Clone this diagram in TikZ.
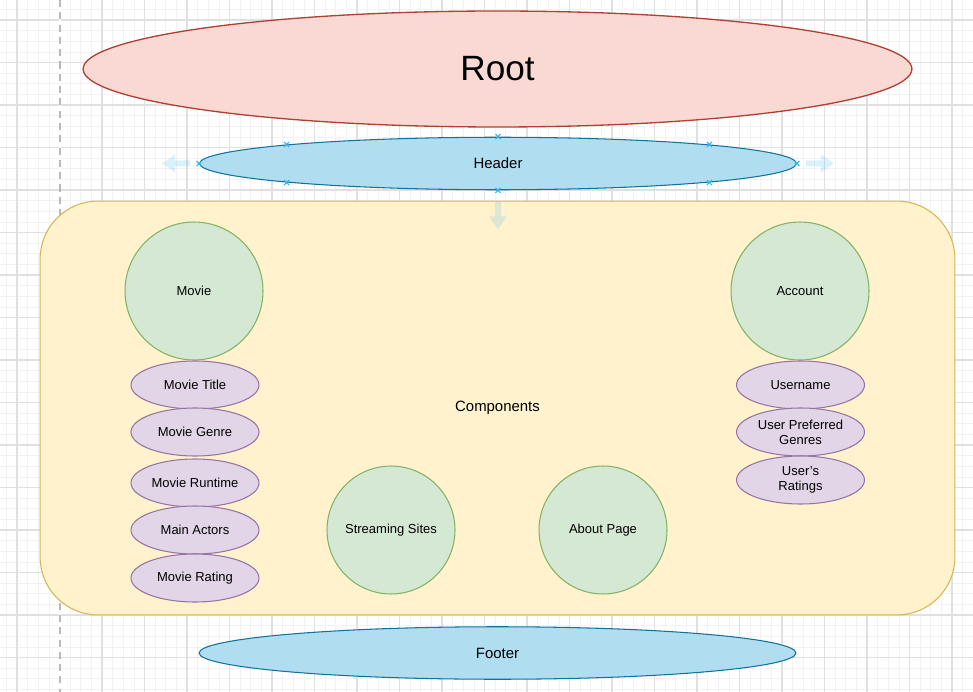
\documentclass[tikz,border=0pt]{standalone}
\usepackage{fontspec}
\setmainfont{Liberation Sans}
\usetikzlibrary{shapes.geometric}
\definecolor{rootfill}{HTML}{FAD9D5}
\definecolor{rootline}{HTML}{AE4132}
\definecolor{barfill}{HTML}{B1DDF0}
\definecolor{barline}{HTML}{10739E}
\definecolor{panelfill}{HTML}{FFF2CC}
\definecolor{panelline}{HTML}{D6B656}
\definecolor{compfill}{HTML}{D5E8D4}
\definecolor{compline}{HTML}{82B366}
\definecolor{attrfill}{HTML}{E1D5E7}
\definecolor{attrline}{HTML}{9673A6}
\definecolor{selblue}{HTML}{29B6F2}
\definecolor{gridminor}{HTML}{F2F2F2}
\definecolor{gridmajor}{HTML}{E0E0E0}
\tikzset{
  base/.style={draw, line width=0.6pt, inner sep=0pt, align=center, text=black},
  rootnode/.style={base, ellipse, fill=rootfill, draw=rootline, line width=0.75pt,
    minimum width=16.58cm, minimum height=2.32cm, font=\fontsize{20}{24}\selectfont},
  barnode/.style={base, ellipse, fill=barfill, draw=barline,
    minimum width=11.94cm, minimum height=1.05cm, font=\fontsize{8.5}{10}\selectfont},
  panel/.style={base, rectangle, rounded corners=1.16cm, fill=panelfill, draw=panelline,
    minimum width=18.3cm, minimum height=8.28cm, font=\fontsize{8.5}{10}\selectfont},
  compbig/.style={base, circle, fill=compfill, draw=compline,
    minimum size=2.76cm, font=\fontsize{7.4}{8.6}\selectfont},
  compsmall/.style={compbig, minimum size=2.56cm},
  attr/.style={base, ellipse, fill=attrfill, draw=attrline,
    minimum width=2.56cm, minimum height=0.96cm, font=\fontsize{7.4}{8.6}\selectfont},
  handle/.style={draw=selblue, line width=0.6pt},
  selarrow/.style={fill=selblue, fill opacity=0.17},
}
\begin{document}
\begin{tikzpicture}[x=0.02cm, y=-0.02cm, line join=round]
  \useasboundingbox (0,0) rectangle (973,692);
  \fill[white] (0,0) rectangle (973,692);
  % grid
  \foreach \gx in {6.375,17,...,973} \draw[gridminor, line width=0.4pt] (\gx,0) -- (\gx,692);
  \foreach \gy in {9.375,20,...,692} \draw[gridminor, line width=0.4pt] (0,\gy) -- (973,\gy);
  \foreach \gx in {17,59.5,...,973} \draw[gridmajor, line width=0.6pt] (\gx,0) -- (\gx,692);
  \foreach \gy in {20,62.5,...,692} \draw[gridmajor, line width=0.6pt] (0,\gy) -- (973,\gy);
  \draw[white, line width=0.8pt] (60,0) -- (60,692);
  \draw[gray!55, line width=0.6pt, dash pattern=on 4 off 3] (60,0) -- (60,692);

  % main blocks
  \node[rootnode] (root) at (497.5,69) {Root};
  \node[barnode] (hdr) at (498,163.5) {Header};
  \node[panel] (comps) at (497.5,408) {Components};
  \node[barnode] (ftr) at (497.5,653) {Footer};

  % components
  \node[compbig] (movie) at (194,291) {Movie};
  \node[compbig] (account) at (800,291) {Account};
  \node[compsmall] (stream) at (391,530) {Streaming Sites};
  \node[compsmall] (about) at (603,530) {About Page};

  % movie attributes
  \node[attr] (mtitle) at (195,385) {Movie Title};
  \node[attr] (mgenre) at (195,432) {Movie Genre};
  \node[attr] (mruntime) at (195,483) {Movie Runtime};
  \node[attr] (mactors) at (195,530) {Main Actors};
  \node[attr] (mrating) at (195,578) {Movie Rating};

  % account attributes
  \node[attr] (uname) at (800.5,385) {Username};
  \node[attr] (ugenres) at (800.5,432) {User Preferred\\Genres};
  \node[attr] (uratings) at (800.5,480) {User's\\Ratings};

  % selection of the header
  \fill[selarrow, shift={(hdr.east)}] (9,-3) -- (24,-3) -- (24,-9) -- (37,0) -- (24,9) -- (24,3) -- (9,3) -- cycle;
  \fill[selarrow, shift={(hdr.west)}, rotate=180] (9,-3) -- (24,-3) -- (24,-9) -- (37,0) -- (24,9) -- (24,3) -- (9,3) -- cycle;
  \fill[selarrow, shift={(hdr.south)}, rotate=-90] (11,-3) -- (26,-3) -- (26,-9) -- (39,0) -- (26,9) -- (26,3) -- (11,3) -- cycle;
  \foreach \a in {north west,north,north east,west,east,south west,south,south east}
    \draw[handle] (hdr.\a) +(-2.5,-2.5) -- +(2.5,2.5) +(-2.5,2.5) -- +(2.5,-2.5);
\end{tikzpicture}
\end{document}
